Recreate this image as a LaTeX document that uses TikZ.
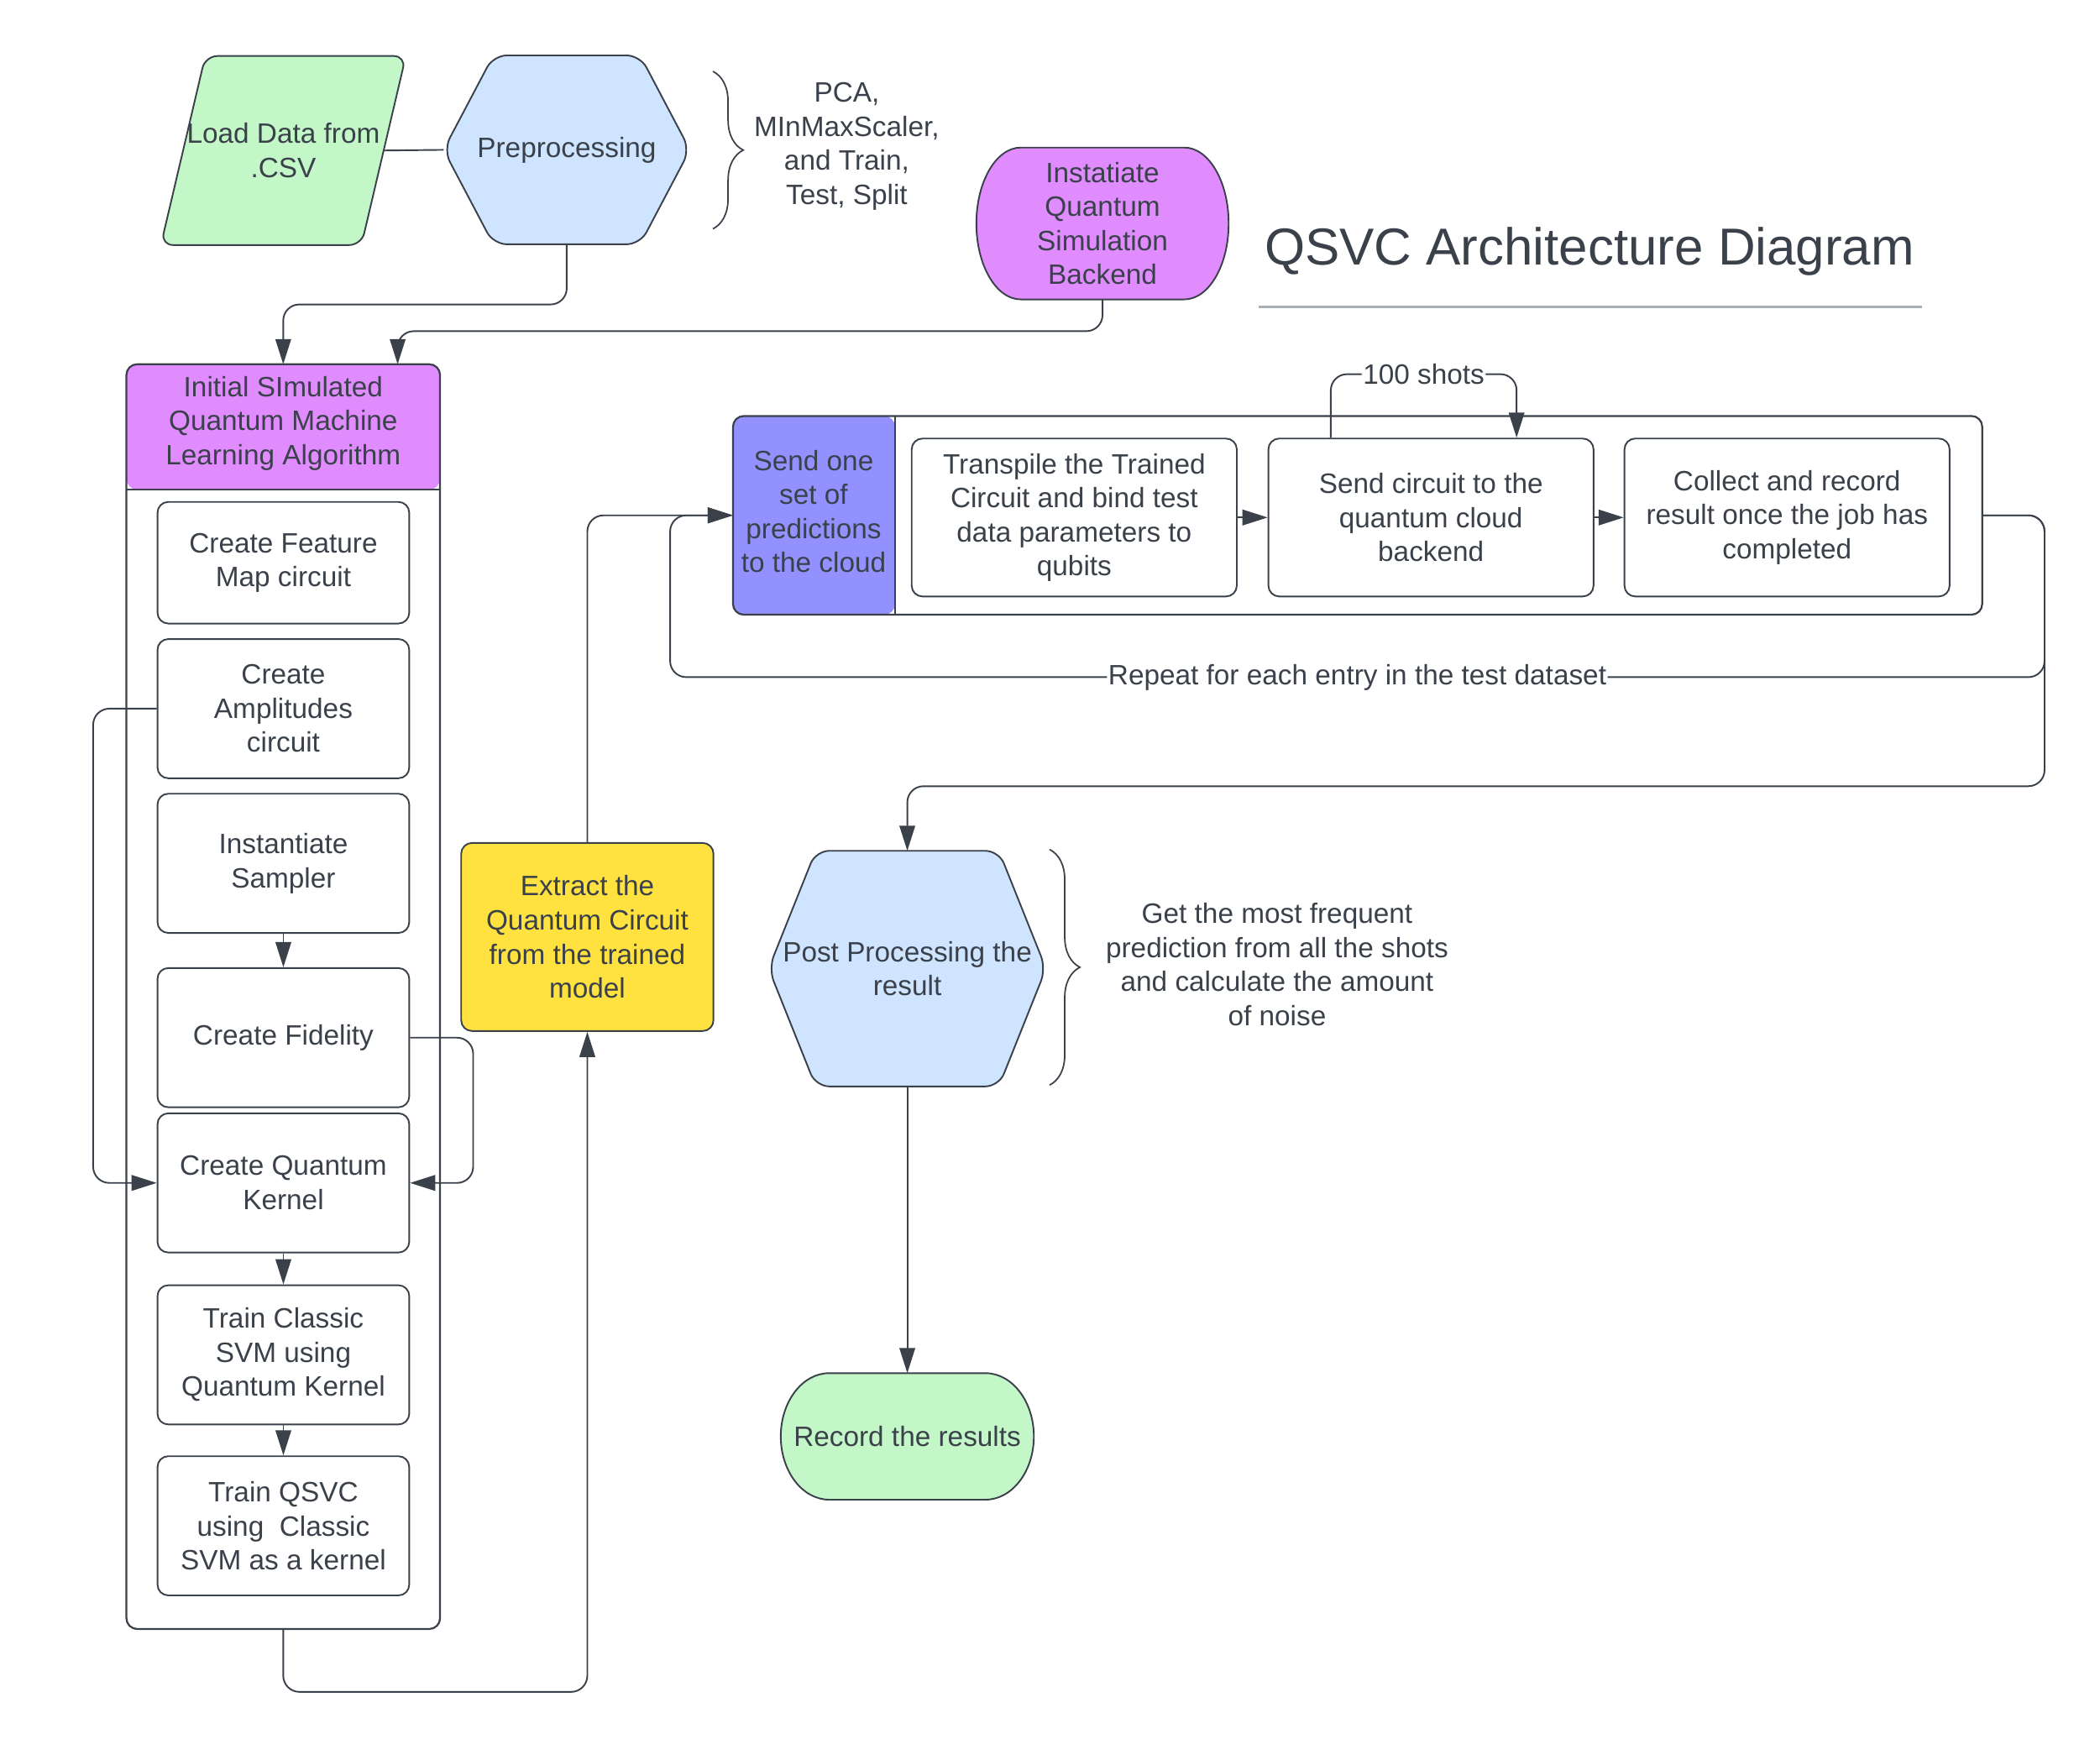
\documentclass[tikz,border=0pt]{standalone}
\usepackage{fontspec}
\setmainfont{Liberation Sans}
\usetikzlibrary{arrows.meta,decorations.pathreplacing,backgrounds}

\definecolor{ink}{HTML}{3A414A}
\definecolor{csvgreen}{HTML}{C3F7C8}
\definecolor{prepblue}{HTML}{CFE4FF}
\definecolor{simpurple}{HTML}{E08CFF}
\definecolor{cloudblue}{HTML}{9391FF}
\definecolor{extractyellow}{HTML}{FFE240}
\definecolor{rulegray}{HTML}{A9AFB9}

\begin{document}
\begin{tikzpicture}[x=1pt,y=-1pt,
  every node/.style={font=\fontsize{20.8}{25.3}\selectfont, text=ink, align=center},
  shapeline/.style={draw=ink, line width=1.2pt},
  textbox/.style={inner sep=0pt, outer sep=0pt},
  process/.style={shapeline, rounded corners=8pt, minimum width=187pt, minimum height=103.4pt, inner sep=2pt},
  cloudstep/.style={process, minimum width=241.5pt, minimum height=117.3pt},
  container/.style={draw=ink, line width=1.4pt, rounded corners=8pt, outer sep=0pt},
  conn/.style={draw=ink, line width=1.2pt, rounded corners=12pt},
  flow/.style={conn, -{Triangle[length=18.7pt,width=11.6pt]}},
  curly/.style={draw=ink, line width=1.1pt, decorate, decoration={brace, amplitude=22.5pt}},
  onwire/.style={fill=white, inner sep=1pt}]

  \useasboundingbox (0,0) rectangle (1560,1291.2);

  % Loading and preparing the data
  \node[textbox, minimum width=182pt, minimum height=140.4pt] (load) at (210.5,111.8) {Load Data from\\.CSV};
  \node[textbox, minimum width=183pt, minimum height=140.3pt] (prep) at (421,111.3) {Preprocessing};
  \draw[conn] ([xshift=-16.5pt]load.east) -- (prep.west);
  \draw[curly] (529.6,53) -- (529.6,170);
  \node (prepnote) at (629,108.6) {PCA,\\MInMaxScaler,\\and Train,\\Test, Split};

  \node[textbox, minimum width=187.4pt, minimum height=112.8pt] (backend) at (819,166) {Instatiate\\Quantum\\Simulation\\Backend};

  \node[font=\fontsize{38.6}{46}\selectfont, anchor=base] (title) at (1180.8,196.5) {QSVC Architecture Diagram};
  \draw[rulegray, line width=1.8pt] (935,227.9) -- (1428,227.9);

  % Training on the simulator
  \node[container, minimum width=233pt, minimum height=939.5pt,
    path picture={\fill[simpurple] (path picture bounding box.north west) rectangle ([yshift=-93.1pt]path picture bounding box.north east);}]
    (mlalg) at (210.4,740.3) {};
  \draw[container] ([yshift=-93.1pt]mlalg.north west) -- ([yshift=-93.1pt]mlalg.north east);
  \node (mlhead) at (210.4,314.5) {Initial SImulated\\Quantum Machine\\Learning Algorithm};

  \node[process, minimum height=90.3pt] (featmap) at (210.5,418) {Create Feature\\Map circuit};
  \node[process] (ampl) at (210.5,526.4) {Create\\Amplitudes\\circuit};
  \node[process] (sampler) at (210.5,641.3) {Instantiate\\Sampler};
  \node[process] (fidelity) at (210.5,770.8) {Create Fidelity};
  \node[process] (kernel) at (210.5,878.7) {Create Quantum\\Kernel};
  \node[process] (trainsvm) at (210.5,1006.4) {Train Classic\\SVM using\\Quantum Kernel};
  \node[process] (trainqsvc) at (210.5,1133.4) {Train QSVC\\using \ Classic\\SVM as a kernel};

  \node[process, fill=extractyellow, minimum width=187.4pt, minimum height=139.7pt] (extract) at (436.3,696) {Extract the\\Quantum Circuit\\from the trained\\model};

  % Running on the cloud backend
  \node[container, minimum width=928pt, minimum height=147.6pt,
    path picture={\fill[cloudblue] (path picture bounding box.north west) rectangle ([xshift=120.4pt]path picture bounding box.south west);}]
    (sendloop) at (1008.5,382.8) {};
  \draw[container] ([xshift=120.4pt]sendloop.north west) -- ([xshift=120.4pt]sendloop.south west);
  \node (sendone) at (604.4,380) {Send one\\set of\\predictions\\to the cloud};
  \node[cloudstep] (transpile) at (798,384.4) {Transpile the Trained\\Circuit and bind test\\data parameters to\\qubits};
  \node[cloudstep] (sendq) at (1063,384.4) {Send circuit to the\\quantum cloud\\backend};
  \node[cloudstep] (collect) at (1327.5,384.4) {Collect and record\\result once the job has\\completed};

  \node[textbox, minimum width=206pt, minimum height=175pt] (post) at (674,719.5) {Post Processing the\\result};
  \draw[curly] (779.7,631) -- (779.7,806);
  \node (postnote) at (948.7,716.5) {Get the most frequent\\prediction from all the shots\\and calculate the amount\\of noise};

  \node[textbox, minimum width=188pt, minimum height=94pt] (record) at (674,1067) {Record the results};

  \begin{pgfonlayer}{background}
    \draw[shapeline, fill=csvgreen, rounded corners=9pt]
      ([xshift=33pt]load.north west) -- (load.north east) -- ([xshift=-33pt]load.south east)
      -- (load.south west) -- cycle;
    \draw[shapeline, fill=prepblue, rounded corners=10pt]
      (prep.west) -- ([xshift=37pt]prep.north west) -- ([xshift=-37pt]prep.north east) -- (prep.east)
      -- ([xshift=-37pt]prep.south east) -- ([xshift=37pt]prep.south west) -- cycle;
    \draw[shapeline, fill=prepblue, rounded corners=10pt]
      (post.west) -- ([xshift=35pt]post.north west) -- ([xshift=-35pt]post.north east) -- (post.east)
      -- ([xshift=-35pt]post.south east) -- ([xshift=35pt]post.south west) -- cycle;
    \draw[shapeline, fill=simpurple]
      ([xshift=33pt]backend.north west) -- ([xshift=-33pt]backend.north east)
      arc[start angle=90, end angle=-90, x radius=33pt, y radius=56.4pt]
      -- ([xshift=33pt]backend.south west)
      arc[start angle=270, end angle=90, x radius=33pt, y radius=56.4pt] -- cycle;
    \draw[shapeline, fill=csvgreen]
      ([xshift=36pt]record.north west) -- ([xshift=-36pt]record.north east)
      arc[start angle=90, end angle=-90, x radius=36pt, y radius=47pt]
      -- ([xshift=36pt]record.south west)
      arc[start angle=270, end angle=90, x radius=36pt, y radius=47pt] -- cycle;
  \end{pgfonlayer}

  \draw[flow] (prep.south) -- ++(0,44.7) -| (mlalg.north);
  \draw[flow] (backend.south) -- ++(0,23.6) -| ([xshift=85pt]mlalg.north);
  \draw[flow] (sampler.south) -- (fidelity.north);
  \draw[flow] (fidelity.east) -- ++(46.9,0) |- (kernel.east);
  \draw[flow] (ampl.west) -- ++(-47.2,0) |- (kernel.west);
  \draw[flow] (kernel.south) -- (trainsvm.north);
  \draw[flow] (trainsvm.south) -- (trainqsvc.north);
  \draw[flow] (mlalg.south) -- ++(0,46.7) -| (extract.south);
  \draw[flow] (extract.north) |- (sendloop.west);
  \draw[flow] (transpile.east) -- (sendq.west);
  \draw[flow] (sendq.east) -- (collect.west);
  \draw[flow] ([xshift=-74.4pt]sendq.north) -- ++(0,-47.2)
    -| node[pos=0.25, onwire] {100 shots} ([xshift=63.6pt]sendq.north);
  \draw[flow] (sendloop.east) -| ++(46.3,120.2)
    -| node[pos=0.25, onwire] {Repeat for each entry in the test dataset} ++(-1021,-120.2)
    -- (sendloop.west);
  \draw[flow] (sendloop.east) -| ++(46.3,201.2) -| (post.north);
  \draw[flow] (post.south) -- (record.north);
\end{tikzpicture}
\end{document}
